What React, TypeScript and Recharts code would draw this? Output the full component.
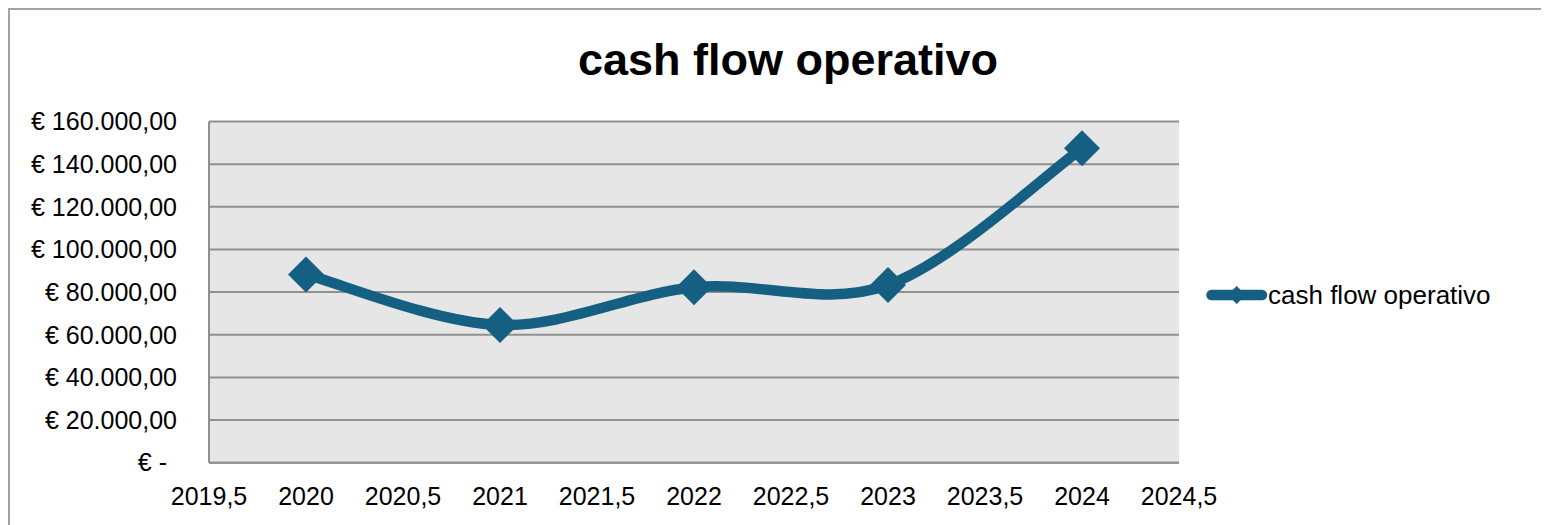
import React from 'react';
import { LineChart, Line, XAxis, YAxis, CartesianGrid, Legend } from 'recharts';

const years = [2020, 2021, 2022, 2023, 2024];
const cashFlow = [88300, 64600, 82300, 83300, 147400];
const xTicks = [2019.5, 2020, 2020.5, 2021, 2021.5, 2022, 2022.5, 2023, 2023.5, 2024, 2024.5];
const yTicks = [0, 20000, 40000, 60000, 80000, 100000, 120000, 140000, 160000];
const seriesName = 'cash flow operativo';

const BLUE = '#156082';
const GRID = '#8f8f8f';
const FONT = '"Liberation Sans", Arial, sans-serif';

const data = years.map((year, i) => ({ year, value: cashFlow[i] }));

// Excel-like smoothed line (Catmull-Rom as bezier segments)
const excelSmooth = (context: any) => {
    let pts: [number, number][] = [];
    return {
        areaStart() {},
        areaEnd() {},
        lineStart() { pts = []; },
        point(x: number, y: number) { pts.push([+x, +y]); },
        lineEnd() {
            if (!pts.length) return;
            context.moveTo(pts[0][0], pts[0][1]);
            for (let i = 0; i < pts.length - 1; i++) {
                const p0 = pts[Math.max(i - 1, 0)];
                const p1 = pts[i];
                const p2 = pts[i + 1];
                const p3 = pts[Math.min(i + 2, pts.length - 1)];
                context.bezierCurveTo(
                    p1[0] + (p2[0] - p0[0]) / 6, p1[1] + (p2[1] - p0[1]) / 6,
                    p2[0] - (p3[0] - p1[0]) / 6, p2[1] - (p3[1] - p1[1]) / 6,
                    p2[0], p2[1]
                );
            }
        },
    };
};

const formatEuro = (v: number) => {
    if (v === 0) return '€ -';
    const s = String(Math.round(v)).replace(/\B(?=(\d{3})+(?!\d))/g, '.');
    return `€ ${s},00`;
};

const diamond = (cx: number, cy: number, r: number) =>
    `M${cx},${cy - r}L${cx + r},${cy}L${cx},${cy + r}L${cx - r},${cy}Z`;

const XTick = (props: any) => {
    const { x, y, payload } = props;
    return (
        <text x={x} y={y + 42} textAnchor="middle" fontSize={25} fontFamily={FONT} fill="#000">
            {String(payload.value).replace('.', ',')}
        </text>
    );
};

const YTick = (props: any) => {
    const { x, y, payload } = props;
    const zero = payload.value === 0;
    return (
        <text x={x - (zero ? 42 : 32)} y={y} dy="0.35em" textAnchor="end" fontSize={25} fontFamily={FONT} fill="#000">
            {formatEuro(payload.value)}
        </text>
    );
};

const LegendContent = () => (
    <div style={{ display: 'flex', alignItems: 'center', height: 30, fontFamily: FONT, fontSize: 26, color: '#000', whiteSpace: 'nowrap' }}>
        <svg width={62} height={30}>
            <line x1={5.5} y1={15} x2={56} y2={15} stroke={BLUE} strokeWidth={10.5} strokeLinecap="round" />
            <path d={diamond(30.7, 15, 9)} fill={BLUE} />
        </svg>
        <span>{seriesName}</span>
    </div>
);

export default function App() {
    return (
        <div style={{ position: 'relative', width: 1539, height: 515, borderTop: '2px solid #a3a3a3', borderLeft: '2px solid #a3a3a3', background: '#fff' }}>
            <div style={{ position: 'absolute', left: 0, width: 1556, top: 27, textAlign: 'center', fontFamily: FONT, fontWeight: 'bold', fontSize: 45, lineHeight: '45px', color: '#000' }}>
                {seriesName}
            </div>
            <LineChart width={1539} height={515} data={data} margin={{ top: 111.5, right: 370, bottom: 2.3, left: 0 }}>
                <CartesianGrid vertical={false} stroke={GRID} strokeWidth={2} fill="#e6e6e6" fillOpacity={1} />
                <XAxis
                    dataKey="year"
                    type="number"
                    domain={[2019.5, 2024.5]}
                    ticks={xTicks}
                    interval={0}
                    height={60}
                    tickLine={false}
                    tickSize={0}
                    tickMargin={0}
                    axisLine={{ stroke: GRID, strokeWidth: 2 }}
                    tick={<XTick />}
                />
                <YAxis
                    type="number"
                    domain={[0, 160000]}
                    ticks={yTicks}
                    interval={0}
                    width={199}
                    tickLine={false}
                    tickSize={0}
                    tickMargin={0}
                    axisLine={{ stroke: GRID, strokeWidth: 2 }}
                    tick={<YTick />}
                />
                <Legend
                    layout="horizontal"
                    verticalAlign="middle"
                    align="center"
                    content={<LegendContent />}
                    wrapperStyle={{ left: 1196, top: 270, width: 320, height: 30 }}
                />
                <Line
                    dataKey="value"
                    name={seriesName}
                    type={excelSmooth as any}
                    stroke={BLUE}
                    strokeWidth={10.5}
                    strokeLinecap="round"
                    strokeLinejoin="round"
                    dot={(p: any) => <path key={`d-${p.index}`} d={diamond(p.cx, p.cy, 18)} fill={BLUE} />}
                    activeDot={false}
                    isAnimationActive={false}
                />
            </LineChart>
        </div>
    );
}
